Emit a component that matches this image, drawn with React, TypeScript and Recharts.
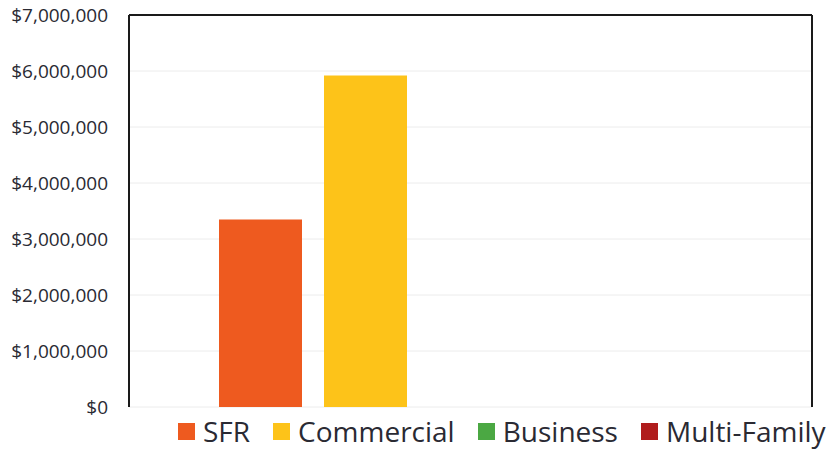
import React from 'react';
import { BarChart, Bar, XAxis, YAxis, CartesianGrid, Legend } from 'recharts';

const categories = [''];
const seriesNames = ['SFR', 'Commercial', 'Business', 'Multi-Family'];
const seriesColors = ['#EE5A1F', '#FDC319', '#4BA843', '#B01C1C'];
const sfrValues = [3350000];
const commercialValues = [5920000];
const businessValues = [0];
const multiFamilyValues = [0];
const yTicks = [0, 1000000, 2000000, 3000000, 4000000, 5000000, 6000000, 7000000];

const seriesValues = [sfrValues, commercialValues, businessValues, multiFamilyValues];

const data = categories.map((c, i) => {
  const row: any = { name: c };
  seriesNames.forEach((s, j) => {
    row[s] = seriesValues[j][i];
  });
  return row;
});

const FONT = '"Open Sans", "Noto Sans", sans-serif';
const TEXT = '#2a2a33';

const fmt = (v: number) => '$' + v.toLocaleString('en-US');

const LegendContent = () => (
  <div
    style={{
      display: 'flex',
      alignItems: 'center',
      height: 42,
      paddingTop: 6,
      paddingLeft: 178,
      boxSizing: 'border-box',
      fontFamily: FONT,
      fontSize: 28,
      color: TEXT,
      whiteSpace: 'nowrap',
    }}
  >
    {seriesNames.map((s, i) => (
      <div key={s} style={{ display: 'flex', alignItems: 'center', marginRight: 23 }}>
        <div style={{ width: 17, height: 17, background: seriesColors[i], marginRight: 8 }} />
        <span style={{ lineHeight: '32px' }}>{s}</span>
      </div>
    ))}
  </div>
);

export default function App() {
  return (
    <div style={{ position: 'absolute', left: 0, top: 0, background: '#fff' }}>
      <BarChart
        width={830}
        height={449}
        data={data}
        margin={{ top: 15, right: 18, bottom: 0, left: 0 }}
        barSize={83}
        barGap={22}
      >
        <CartesianGrid vertical={false} stroke="#ececec" />
        <CartesianGrid
          stroke="#1a1a1a"
          strokeWidth={2}
          horizontalCoordinatesGenerator={({ offset }: any) => [offset.top]}
          verticalCoordinatesGenerator={({ offset }: any) => [offset.left + offset.width]}
        />
        <XAxis dataKey="name" hide padding={{ left: 0, right: 105 }} />
        <YAxis
          domain={[0, 7000000]}
          ticks={yTicks}
          tickFormatter={fmt}
          width={129}
          tickLine={false}
          tickSize={0}
          tickMargin={21}
          axisLine={{ stroke: '#1a1a1a', strokeWidth: 2 }}
          tick={{ fill: TEXT, fontSize: 19, fontFamily: FONT }}
          interval={0}
        />
        <Legend verticalAlign="bottom" height={42} wrapperStyle={{ left: 0, width: 830 }} content={<LegendContent />} />
        {seriesNames.map((s, i) => (
          <Bar key={s} dataKey={s} fill={seriesColors[i]} isAnimationActive={false} />
        ))}
      </BarChart>
    </div>
  );
}
